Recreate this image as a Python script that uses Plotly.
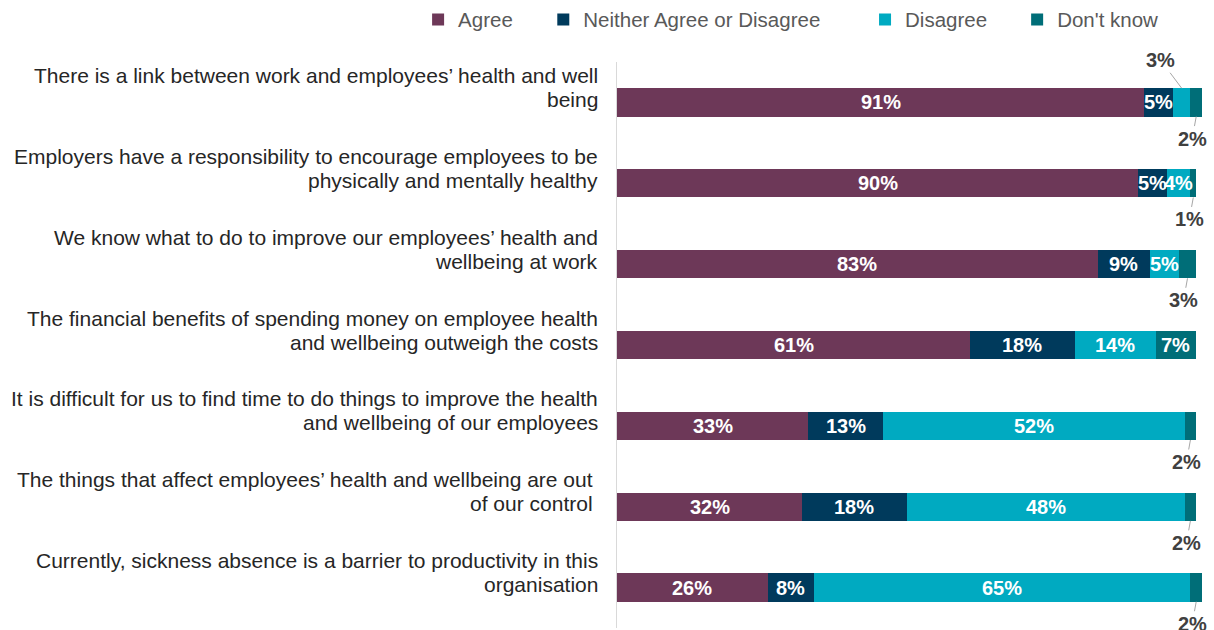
import plotly.graph_objects as go

# Survey statements (top to bottom)
statements = [
    "There is a link between work and employees’ health and well<br>being",
    "Employers have a responsibility to encourage employees to be<br>physically and mentally healthy",
    "We know what to do to improve our employees’ health and<br>wellbeing at work",
    "The financial benefits of spending money on employee health<br>and wellbeing outweigh the costs",
    "It is difficult for us to find time to do things to improve the health<br>and wellbeing of our employees",
    "The things that affect employees’ health and wellbeing are out\u00a0<br>of our control\u00a0",
    "Currently, sickness absence is a barrier to productivity in this<br>organisation",
]

# Response shares (%)
agree = [91, 90, 83, 61, 33, 32, 26]
neither = [5, 5, 9, 18, 13, 18, 8]
disagree = [3, 4, 5, 14, 52, 48, 65]
dont_know = [2, 1, 3, 7, 2, 2, 2]

series_names = ["Agree", "Neither Agree or Disagree", "Disagree", "Don't know"]
series_values = [agree, neither, disagree, dont_know]
series_colors = ["#6d3858", "#003a5c", "#00aac1", "#006e78"]

FONT = "Liberation Sans, Arial"
# Small segments get their label outside the bar with a leader line
SMALL = 3
BAR_W = 0.35
LINE_H = 24

rows = list(range(len(statements)))
fig = go.Figure()

legend_x = [-0.34, -0.126, 0.424, 0.684]
for k, (name, vals, col) in enumerate(zip(series_names, series_values, series_colors)):
    lg = "legend" if k == 0 else f"legend{k + 1}"
    fig.add_trace(go.Bar(
        y=rows, x=vals, name=name, orientation="h",
        marker=dict(color=col, line=dict(width=0)),
        width=BAR_W, legend=lg, hoverinfo="skip",
    ))

annotations = []
# Segment value labels
for i in rows:
    left = 0
    for k, vals in enumerate(series_values):
        v = vals[i]
        mid = left + v / 2
        if v <= SMALL:
            above = (k == 2)
            annotations.append(dict(
                x=mid, y=i + (-BAR_W / 2 if above else BAR_W / 2),
                xref="x", yref="y", text=f"<b>{v}%</b>",
                showarrow=True, arrowhead=0, arrowwidth=1, arrowcolor="#a6a6a6",
                ax=-21 if above else -4, ay=-28 if above else 22,
                font=dict(family=FONT, size=20, color="#404040"),
            ))
        else:
            annotations.append(dict(
                x=mid, y=i, xref="x", yref="y", text=f"<b>{v}%</b>",
                showarrow=False,
                font=dict(family=FONT, size=20, color="#ffffff"),
            ))
        left += v

# Statement labels, right-aligned against the axis, one annotation per line
for i, s in enumerate(statements):
    lines = s.split("<br>")
    n = len(lines)
    for j, line in enumerate(lines):
        annotations.append(dict(
            x=0, y=i, xref="paper", yref="y", text=line, showarrow=False,
            xanchor="right", align="right", xshift=-17,
            yshift=15 + (n - 1) / 2 * LINE_H - j * LINE_H,
            font=dict(family=FONT, size=21, color="#262626"),
        ))

layout_legends = {}
for k in range(4):
    key = "legend" if k == 0 else f"legend{k + 1}"
    layout_legends[key] = dict(
        x=legend_x[k], y=1.075, xanchor="left", yanchor="middle",
        orientation="h", bgcolor="rgba(0,0,0,0)",
        font=dict(family=FONT, size=20.5, color="#595959"),
    )

fig.update_layout(
    barmode="stack",
    width=1214, height=630,
    margin=dict(l=617, r=12, t=62, b=2, autoexpand=False),
    paper_bgcolor="white", plot_bgcolor="white",
    showlegend=True,
    annotations=annotations,
    xaxis=dict(range=[0, 101], showgrid=False, zeroline=False, showticklabels=False,
               showline=False, fixedrange=True),
    yaxis=dict(range=[6.5, -0.5], showgrid=False, zeroline=False, showticklabels=False,
               showline=True, linecolor="#d9d9d9", linewidth=1, fixedrange=True),
    **layout_legends,
)

fig.write_html("out.html")
